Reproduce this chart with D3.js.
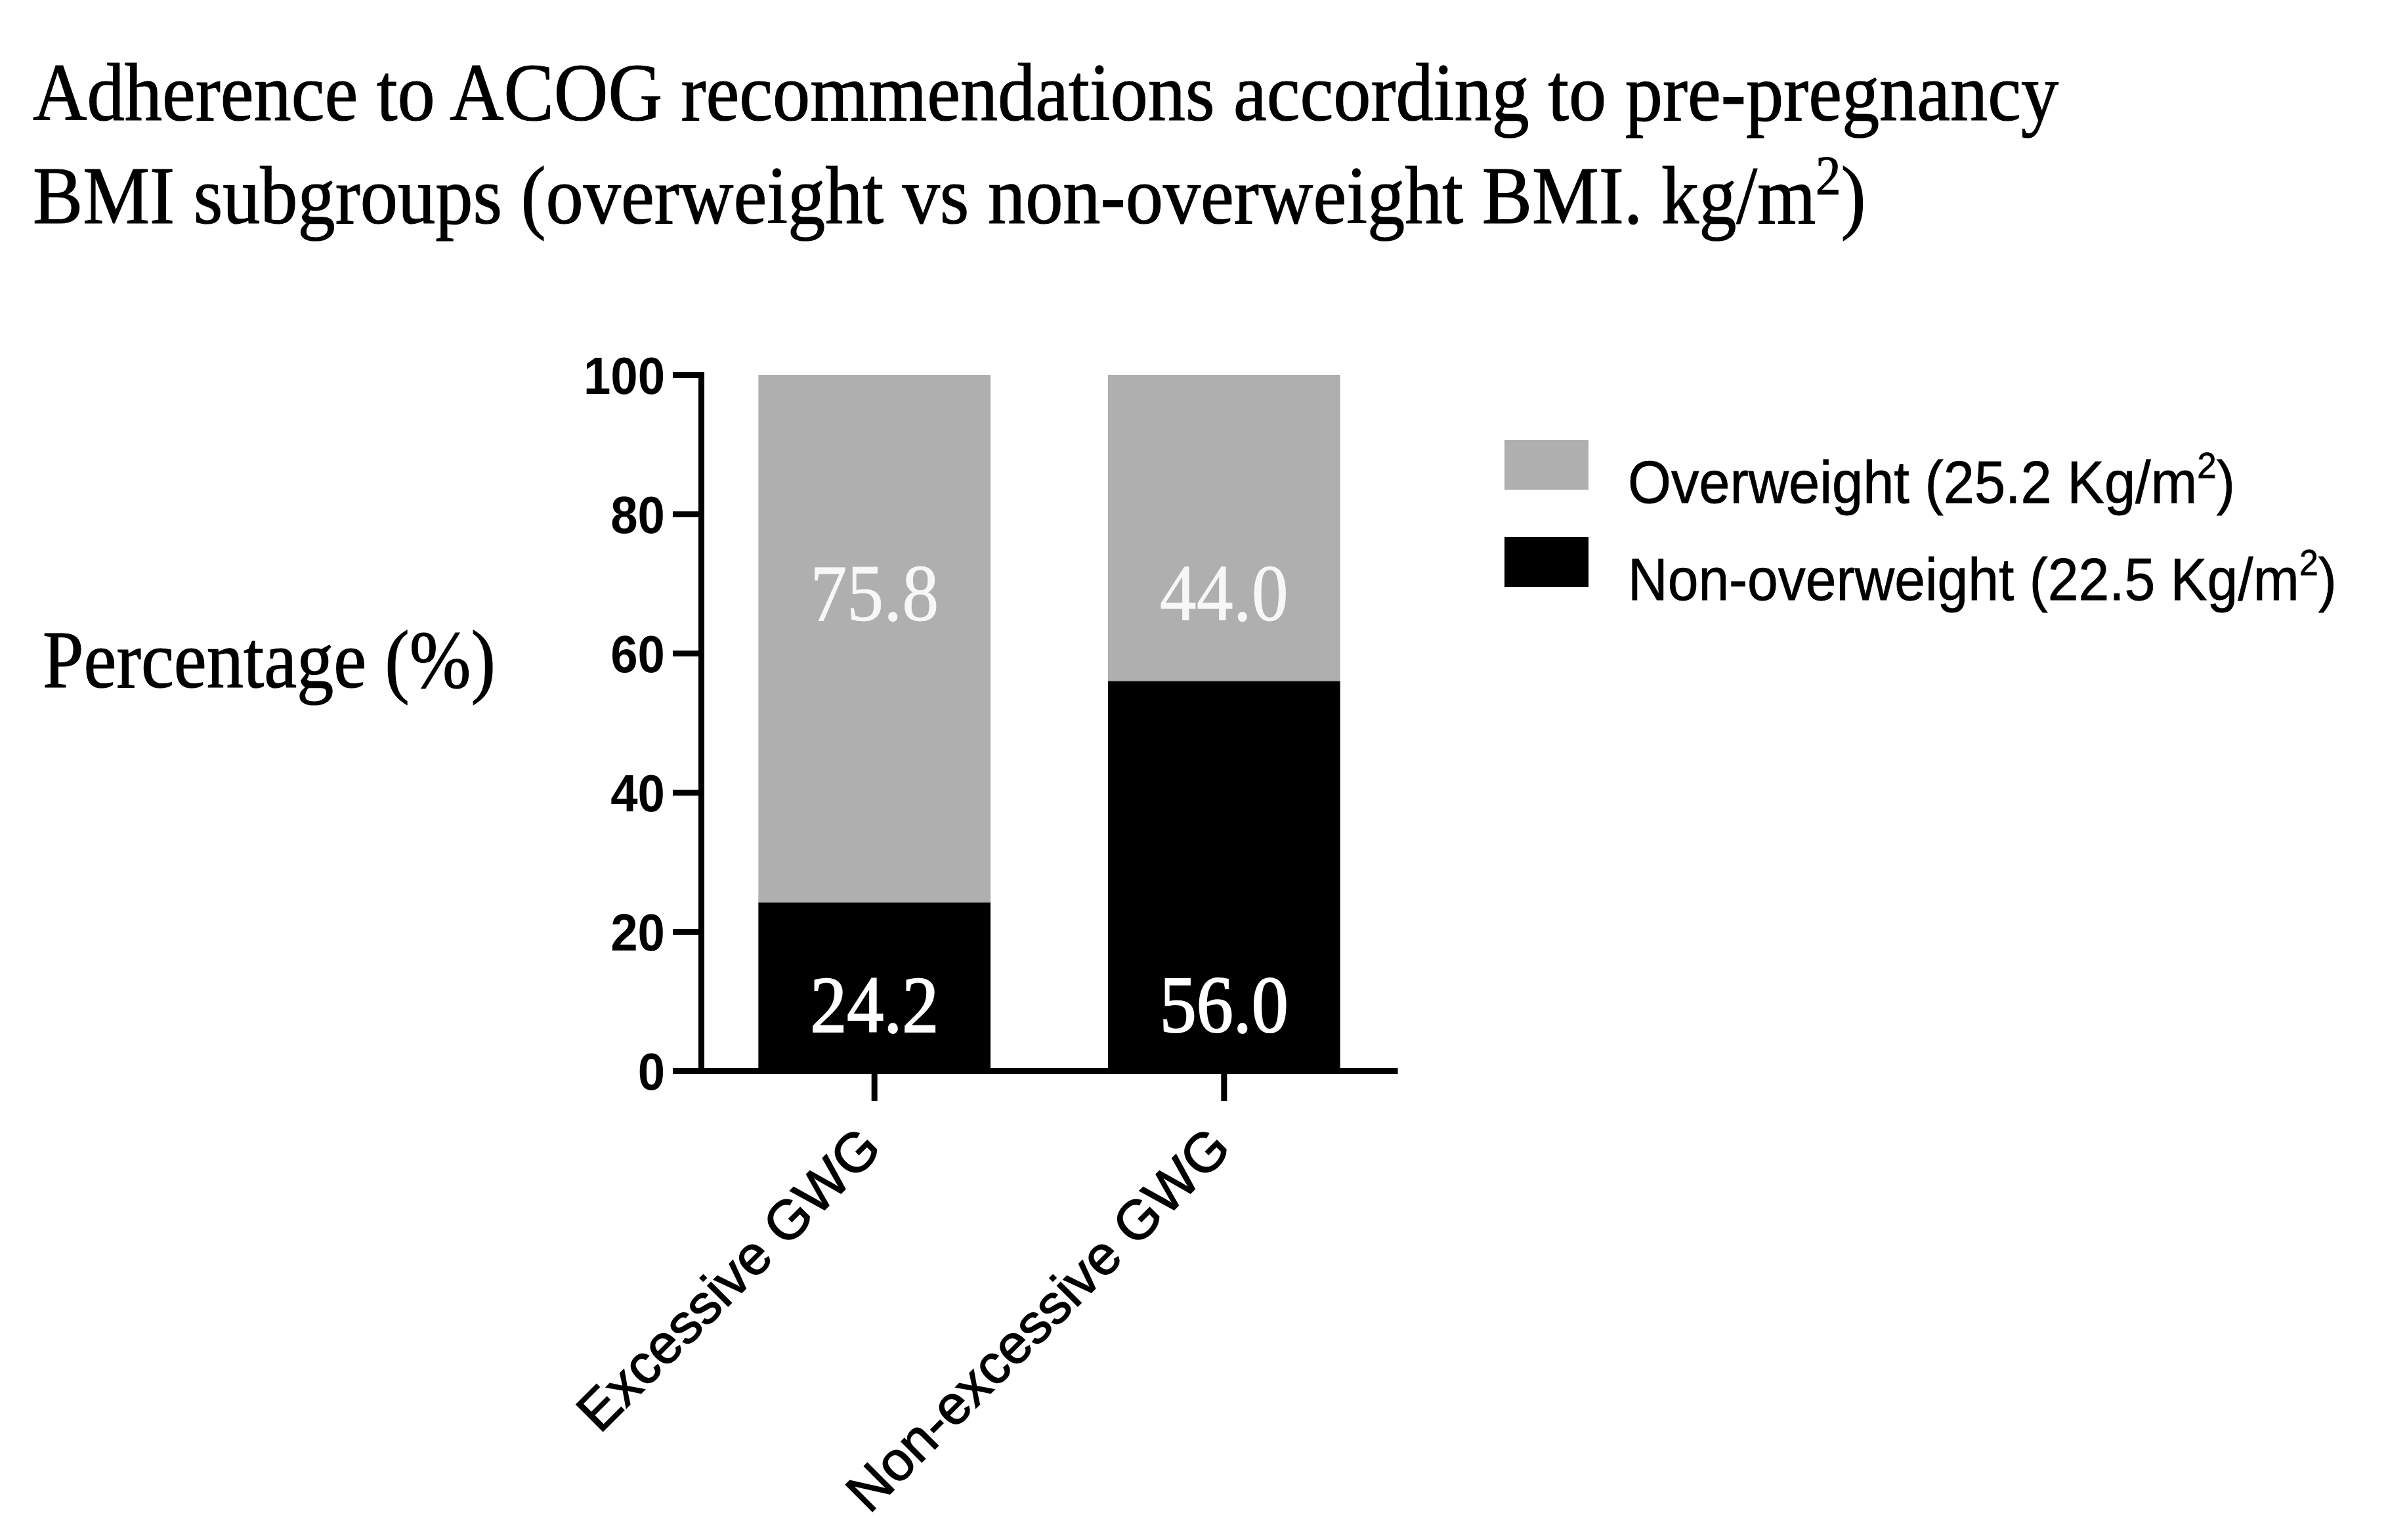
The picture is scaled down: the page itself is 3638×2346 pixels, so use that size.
<!DOCTYPE html>
<html>
<head>
<meta charset="utf-8">
<script src="https://cdn.jsdelivr.net/npm/d3@7"></script>
<style>
  html, body { margin: 0; padding: 0; background: #fff; }
  svg { display: block; }
</style>
</head>
<body>
<svg id="chart" width="3638" height="2346"></svg>
<script>
// ---- data ----
const categories = ["Excessive GWG", "Non-excessive GWG"];
const nonOverweight = [24.2, 56.0];
const overweight = [75.8, 44.0];
const seriesKeys = ["nonOverweight", "overweight"];
const legendLabels = ["Overweight (25.2 Kg/m", "Non-overweight (22.5 Kg/m"];
const yTicks = [0, 20, 40, 60, 80, 100];
const titleLines = ["Adherence to ACOG recommendations according to pre-pregnancy",
                    "BMI subgroups (overweight vs non-overweight BMI. kg/m"];
const yLabel = "Percentage (%)";

// ---- setup ----
const svg = d3.select("#chart");
const SERIF = "'Liberation Serif', 'Times New Roman', serif";
const SANS = "'Liberation Sans', Arial, Helvetica, sans-serif";
const colors = { nonOverweight: "#000000", overweight: "#afafb0" };

const x0 = 1068, x1 = 2129, yTop = 571, yBot = 1631;
const x = d3.scaleBand().domain(categories).range([x0, x1]).paddingInner(0.336).paddingOuter(0.164);
const y = d3.scaleLinear().domain([0, 100]).range([yBot, yTop]);

// helper: squeeze text horizontally to a target width
function fit(g, width) {
  if (!width) return;
  const w = g.node().getBBox().width;
  if (w > 0) g.select("text").attr("transform", `scale(${width / w},1)`);
}

// ---- title ----
const t1 = svg.append("g").attr("transform", "translate(50,183)");
t1.append("text").attr("font-family", SERIF).attr("font-size", 125).attr("fill", "#000")
  .attr("stroke", "#000").attr("stroke-width", 1.2).text(titleLines[0]);
fit(t1, 3087);
const t2 = svg.append("g").attr("transform", "translate(50,340)");
const t2t = t2.append("text").attr("font-family", SERIF).attr("font-size", 125).attr("fill", "#000")
  .attr("stroke", "#000").attr("stroke-width", 1.2);
t2t.append("tspan").text(titleLines[1]);
t2t.append("tspan").attr("font-size", 84).attr("dy", -44).text("2");
t2t.append("tspan").attr("dy", 44).text(")");
fit(t2, 2793);

// ---- y label ----
const yl = svg.append("g").attr("transform", "translate(65,1047)");
yl.append("text").attr("font-family", SERIF).attr("font-size", 124).attr("fill", "#000")
  .attr("stroke", "#000").attr("stroke-width", 1.2).text(yLabel);
fit(yl, 690);

// ---- bars ----
const rows = categories.map((c, i) => ({ cat: c, nonOverweight: nonOverweight[i], overweight: overweight[i] }));
const stacked = d3.stack().keys(seriesKeys)(rows);
svg.append("g").selectAll("g").data(stacked).join("g")
  .attr("fill", d => colors[d.key])
  .selectAll("rect").data(d => d).join("rect")
  .attr("x", d => x(d.data.cat))
  .attr("width", x.bandwidth())
  .attr("y", d => y(d[1]))
  .attr("height", d => y(d[0]) - y(d[1]));

// ---- value labels ----
const fmt = d3.format(".1f");
const labelPos = { overweight: 64.7, nonOverweight: 5.6 };
const labelFill = { overweight: "#f7f7f7", nonOverweight: "#ffffff" };
const labelStroke = { overweight: 0.8, nonOverweight: 2.2 };
stacked.forEach(s => {
  s.forEach(d => {
    const g = svg.append("g")
      .attr("transform", `translate(${x(d.data.cat) + x.bandwidth() / 2},${y(labelPos[s.key])})`);
    g.append("text").attr("font-family", SERIF).attr("font-size", 122)
      .attr("text-anchor", "middle").attr("fill", labelFill[s.key])
      .attr("stroke", labelFill[s.key]).attr("stroke-width", labelStroke[s.key])
      .text(fmt(d.data[s.key]));
    fit(g, 196);
  });
});

// ---- axes ----
const yAxis = svg.append("g").attr("transform", `translate(${x0},0)`)
  .call(d3.axisLeft(y).tickValues(yTicks).tickSize(43).tickPadding(12).tickSizeOuter(0));
yAxis.select(".domain").attr("stroke", "#000").attr("stroke-width", 9).attr("stroke-linecap", "square");
yAxis.selectAll(".tick line").attr("stroke", "#000").attr("stroke-width", 9);
yAxis.selectAll(".tick text").attr("font-family", SANS).attr("font-weight", "bold")
  .attr("font-size", 80).attr("fill", "#000").attr("dy", "0.36em")
  .attr("transform", "scale(0.93,1)").attr("x", -55 / 0.93);

const xAxis = svg.append("g").attr("transform", `translate(0,${yBot})`)
  .call(d3.axisBottom(x).tickSize(46).tickSizeOuter(0).tickFormat(""));
xAxis.select(".domain").attr("stroke", "#000").attr("stroke-width", 9);
xAxis.selectAll(".tick line").attr("stroke", "#000").attr("stroke-width", 9);

// rotated category labels
svg.append("g").selectAll("text").data(categories).join("text")
  .attr("font-family", SANS).attr("font-size", 84).attr("fill", "#000")
  .attr("stroke", "#000").attr("stroke-width", 1.5)
  .attr("text-anchor", "end")
  .attr("transform", d => `translate(${x(d) + x.bandwidth() / 2 + 14},${yBot + 122}) rotate(-45)`)
  .text(d => d);

// ---- legend ----
const legendColors = [colors.overweight, colors.nonOverweight];
const legendY = [670, 818];
legendLabels.forEach((lab, i) => {
  svg.append("rect").attr("x", 2292).attr("y", legendY[i]).attr("width", 128).attr("height", 76)
    .attr("fill", legendColors[i]);
  const g = svg.append("g").attr("transform", `translate(2480,${legendY[i] + 96})`);
  const t = g.append("text").attr("font-family", SANS).attr("font-size", 90).attr("fill", "#000")
    .attr("stroke", "#000").attr("stroke-width", 0.8);
  t.append("tspan").text(lab);
  t.append("tspan").attr("font-size", 56).attr("dy", -38).text("2");
  t.append("tspan").attr("dy", 38).text(")");
  fit(g, i === 0 ? 925 : 1080);
});
</script>
</body>
</html>
